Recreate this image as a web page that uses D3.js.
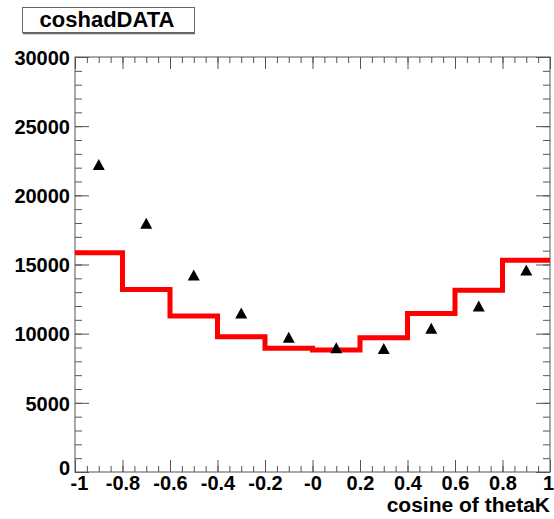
<!DOCTYPE html>
<html>
<head>
<meta charset="utf-8">
<script src="https://cdn.jsdelivr.net/npm/d3@7"></script>
<style>
  body { margin: 0; background: #fff; }
  text { font-family: "Liberation Sans", Arial, sans-serif; font-weight: bold; fill: #000; }
</style>
</head>
<body>
<svg id="chart"></svg>
<script>
const width = 554;
const height = 519;

// bin edges of the histogram (cos thetaK)
const binEdges = [-1, -0.8, -0.6, -0.4, -0.2, 0, 0.2, 0.4, 0.6, 0.8, 1];
// red histogram (MC) contents per bin
const histValues = [15850, 13190, 11270, 9780, 8940, 8820, 9710, 11460, 13140, 15300];
// data points (triangles) at bin centres
const dataX = [-0.9, -0.7, -0.5, -0.3, -0.1, 0.1, 0.3, 0.5, 0.7, 0.9];
const dataY = [22200, 17950, 14200, 11460, 9710, 8940, 8900, 10360, 11970, 14560];

const xTicks = [-1, -0.8, -0.6, -0.4, -0.2, 0, 0.2, 0.4, 0.6, 0.8, 1];
const xTickLabels = ["-1", "-0.8", "-0.6", "-0.4", "-0.2", "-0", "0.2", "0.4", "0.6", "0.8", "1"];
const yTicks = [0, 5000, 10000, 15000, 20000, 25000, 30000];
const xMinor = d3.range(-1, 1.0001, 0.05);
const yMinor = d3.range(0, 30001, 1000);

const svg = d3.select('#chart')
  .attr('width', width)
  .attr('height', height);

const x = d3.scaleLinear().domain([-1, 1]).range([75, 550]);
const y = d3.scaleLinear().domain([0, 30000]).range([472, 57]);

const axisColor = '#555';

// frame
svg.append('rect')
  .attr('x', x(-1))
  .attr('y', y(30000))
  .attr('width', x(1) - x(-1))
  .attr('height', y(0) - y(30000))
  .attr('fill', 'none')
  .attr('stroke', axisColor)
  .attr('stroke-width', 1);

// ticks, all pointing into the frame
function tickAxis(axis, pos, size, values, labels) {
  const g = svg.append('g').attr('transform', pos)
    .call(axis.tickValues(values).tickSize(size).tickSizeOuter(0)
      .tickFormat(labels ? (d, i) => labels[i] : () => ''));
  g.select('.domain').remove();
  g.selectAll('.tick line').attr('stroke', axisColor);
  return g;
}

tickAxis(d3.axisBottom(x), `translate(0,${y(0)})`, -6, xMinor);
tickAxis(d3.axisTop(x), `translate(0,${y(30000)})`, -6, xMinor);
tickAxis(d3.axisTop(x), `translate(0,${y(30000)})`, -12, xTicks);
const xAxis = tickAxis(d3.axisBottom(x), `translate(0,${y(0)})`, -12, xTicks, xTickLabels);
xAxis.selectAll('.tick text')
  .attr('y', 18)
  .attr('dy', 0)
  .style('font-size', '20px')
  .attr('font-family', null)
  .attr('text-anchor', 'middle');
xAxis.select('.tick text').attr('dx', 4);
xAxis.selectAll('.tick text').filter((d, i) => i === xTicks.length - 1).attr('dx', -2);

tickAxis(d3.axisLeft(y), `translate(${x(-1)},0)`, -7, yMinor);
tickAxis(d3.axisRight(y), `translate(${x(1)},0)`, -7, yMinor);
tickAxis(d3.axisRight(y), `translate(${x(1)},0)`, -14, yTicks);
const yAxis = tickAxis(d3.axisLeft(y), `translate(${x(-1)},0)`, -14, yTicks, yTicks.map(String));
yAxis.selectAll('.tick text')
  .attr('x', -5)
  .attr('dy', '0.36em')
  .attr('font-family', null)
  .style('font-size', '20px');
yAxis.select('.tick text').attr('dy', '0.1em');

// histogram
const histPts = binEdges.map((e, i) => [e, histValues[Math.min(i, histValues.length - 1)]]);
svg.append('path')
  .datum(histPts)
  .attr('fill', 'none')
  .attr('stroke', '#ff0000')
  .attr('stroke-width', 5)
  .attr('d', d3.line().x(d => x(d[0])).y(d => y(d[1])).curve(d3.curveStepAfter));

// data points
svg.append('g')
  .selectAll('path')
  .data(dataX.map((v, i) => [v, dataY[i]]))
  .enter().append('path')
  .attr('transform', d => `translate(${x(d[0])},${y(d[1])})`)
  .attr('d', 'M-6,5L6,5L0,-6Z')
  .attr('fill', '#000');

// axis title
svg.append('text')
  .attr('x', 550)
  .attr('y', 512)
  .attr('text-anchor', 'end')
  .style('font-size', '21px')
  .text('cosine of thetaK');

// title box
svg.append('rect')
  .attr('x', 22.5).attr('y', 7.5)
  .attr('width', 172).attr('height', 25)
  .attr('fill', '#fff')
  .attr('stroke', '#666');
svg.append('line')
  .attr('x1', 23).attr('x2', 195)
  .attr('y1', 33.5).attr('y2', 33.5)
  .attr('stroke', '#666').attr('stroke-width', 1.5);
svg.append('text')
  .attr('x', 107)
  .attr('y', 27)
  .attr('text-anchor', 'middle')
  .style('font-size', '22px')
  .text('coshadDATA');
</script>
</body>
</html>
